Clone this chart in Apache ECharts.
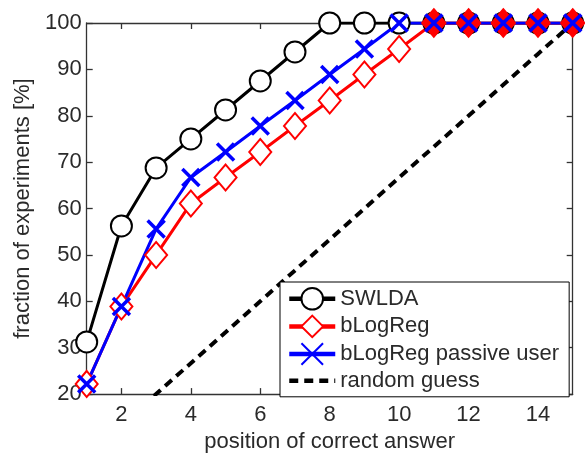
<!DOCTYPE html>
<html><head><meta charset="utf-8">
<script src="https://cdn.jsdelivr.net/npm/echarts@6/dist/echarts.min.js"></script>
<style>html,body{margin:0;padding:0;background:#fff}#c{width:585px;height:458px}</style>
</head><body><div id="c"></div>
<script>
const positions = [1,2,3,4,5,6,7,8,9,10,11,12,13,14,15];
const swlda = [31.25,56.25,68.75,75,81.25,87.5,93.75,100,100,100,100,100,100,100,100];
const blogreg = [22.2,38.9,50,61.1,66.7,72.2,77.8,83.3,88.9,94.4,100,100,100,100,100];
const passive = [22.2,38.9,55.6,66.7,72.2,77.8,83.3,88.9,94.4,100,100,100,100,100,100];
const randomGuess = [6.67,13.33,20,26.67,33.33,40,46.67,53.33,60,66.67,73.33,80,86.67,93.33,100];
const xTicks = [2,4,6,8,10,12,14];
const yTicks = [20,30,40,50,60,70,80,90,100];

const pair = arr => positions.map((x,i)=>[x,arr[i]]);
const font = 'Liberation Sans, Arial, sans-serif';
const txt = '#2a2a2a';
const frame = '#333';
const chart = echarts.init(document.getElementById('c'));
const axisCommon = {
  axisLine:{show:true,onZero:false,lineStyle:{color:frame,width:1.3}},
  axisTick:{show:true,inside:true,length:6,lineStyle:{color:frame,width:1.3}},
  splitLine:{show:false}
};
chart.setOption({
  animation:false,
  grid:{left:86.7,right:12.3,top:23,bottom:55},
  xAxis:[
    Object.assign({type:'value',min:1,max:15,position:'bottom',
      name:'position of correct answer',nameLocation:'middle',nameGap:32,
      nameTextStyle:{fontFamily:font,fontSize:22,color:txt},
      axisLabel:{customValues:xTicks,fontFamily:font,fontSize:22,color:txt,margin:10}},axisCommon,
      {axisTick:Object.assign({},axisCommon.axisTick,{customValues:xTicks})}),
    Object.assign({type:'value',min:1,max:15,position:'top',axisLabel:{show:false}},axisCommon,
      {axisTick:Object.assign({},axisCommon.axisTick,{customValues:xTicks})})
  ],
  yAxis:[
    Object.assign({type:'value',min:20,max:100,interval:10,position:'left',
      name:'fraction of experiments [%]',nameLocation:'middle',nameGap:47,
      nameTextStyle:{fontFamily:font,fontSize:22,color:txt},
      axisLabel:{customValues:yTicks,fontFamily:font,fontSize:22,color:txt,margin:5}},axisCommon),
    Object.assign({type:'value',min:20,max:100,interval:10,position:'right',axisLabel:{show:false}},axisCommon)
  ],
  legend:{
    orient:'vertical',left:280,top:282,
    backgroundColor:'#fff',borderColor:'#000',borderWidth:1,borderRadius:0,
    padding:[5,10,5,7],itemGap:4,itemWidth:46,itemHeight:27,
    lineStyle:{width:4.5},
    textStyle:{fontFamily:font,fontSize:22,color:txt},
    data:['SWLDA','bLogReg','bLogReg passive user','random guess']
  },
  series:[
    {name:'SWLDA',type:'line',data:pair(swlda),symbol:'emptyCircle',symbolSize:21,
      lineStyle:{color:'#000',width:3},itemStyle:{color:'#000',borderColor:'#000',borderWidth:3}},
    {name:'bLogReg',type:'line',
      data:pair(blogreg).map(p=>p[1]>=100?{value:p,symbol:'diamond'}:p),
      symbol:'emptyDiamond',symbolSize:[22,26],
      lineStyle:{color:'#ff0000',width:3},itemStyle:{color:'#ff0000',borderColor:'#ff0000',borderWidth:3}},
    {name:'bLogReg passive user',type:'line',data:pair(passive),symbol:'path://M0,0L10,10M10,0L0,10',symbolSize:17,
      lineStyle:{color:'#0000ff',width:3},itemStyle:{color:'#0000ff',borderColor:'#0000ff',borderWidth:3.5}},
    {name:'random guess',type:'line',data:pair(randomGuess),symbol:'none',
      lineStyle:{color:'#000',width:4,type:[9,6]},itemStyle:{color:'#000',opacity:0}}
  ]
});
</script></body></html>
